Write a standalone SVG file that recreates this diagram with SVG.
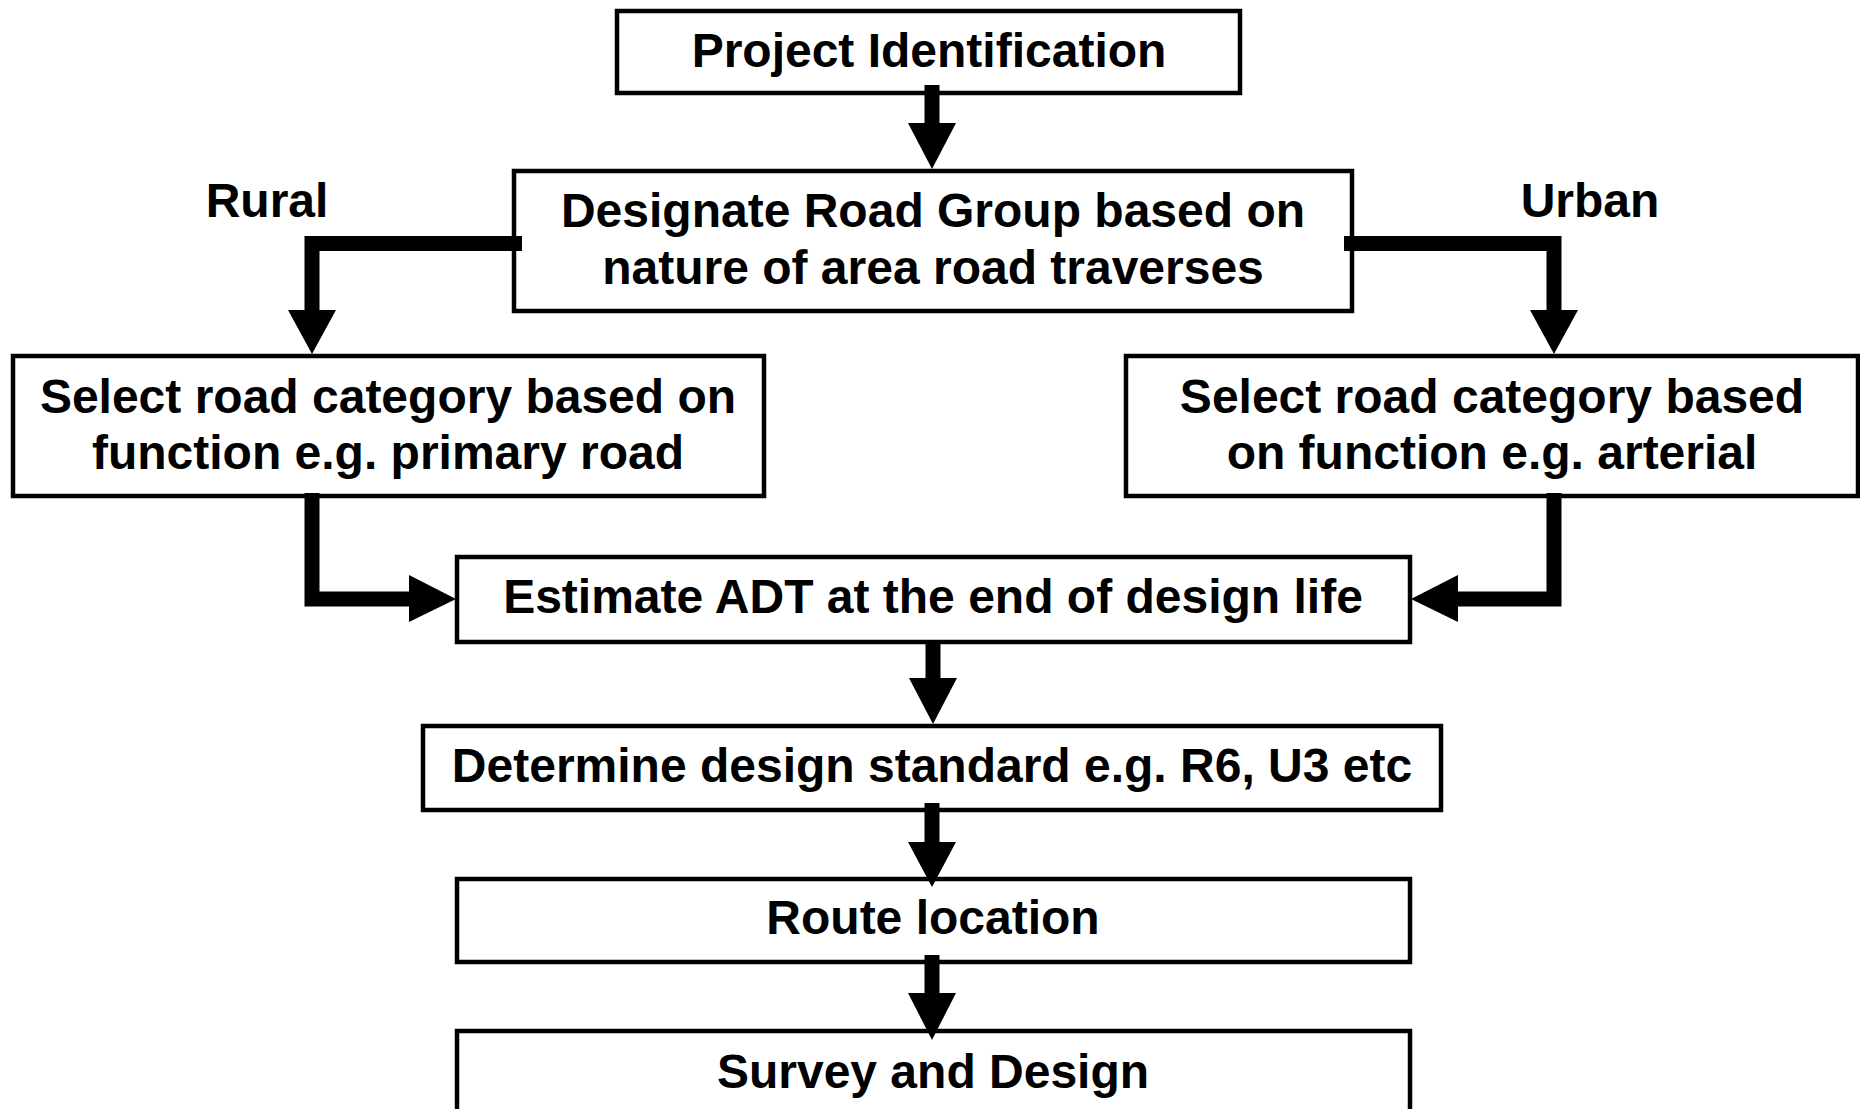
<svg xmlns="http://www.w3.org/2000/svg" width="1860" height="1109" viewBox="0 0 1860 1109">
<style>
.box{fill:#fff;stroke:#000;stroke-width:4.5}
.t{font-family:"Liberation Sans",Arial,Helvetica,sans-serif;font-weight:bold;font-size:48px;fill:#000;text-anchor:middle}
.c{fill:none;stroke:#000;stroke-width:15;stroke-linejoin:miter;stroke-linecap:butt}
.h{fill:#000;stroke:none}
</style>
<rect width="1860" height="1109" fill="#fff"/>
<g id="node-project">
<rect class="box" x="617" y="11" width="623" height="82"/>
<text class="t" x="929" y="67">Project Identification</text>
</g>
<g id="node-designate">
<rect class="box" x="514" y="171" width="838" height="140"/>
<text class="t" x="933" y="227">Designate Road Group based on</text>
<text class="t" x="933" y="284">nature of area road traverses</text>
</g>
<g id="label-rural"><text class="t" x="267" y="217">Rural</text></g>
<g id="label-urban"><text class="t" x="1590" y="217">Urban</text></g>
<g id="node-rural-category">
<rect class="box" x="13" y="356" width="751" height="140"/>
<text class="t" x="388" y="413">Select road category based on</text>
<text class="t" x="388" y="469">function e.g. primary road</text>
</g>
<g id="node-urban-category">
<rect class="box" x="1126" y="356" width="732" height="140"/>
<text class="t" x="1492" y="413">Select road category based</text>
<text class="t" x="1492" y="469">on function e.g. arterial</text>
</g>
<g id="node-adt">
<rect class="box" x="457" y="557" width="953" height="85"/>
<text class="t" x="933" y="613">Estimate ADT at the end of design life</text>
</g>
<g id="node-standard">
<rect class="box" x="423" y="726" width="1018" height="84"/>
<text class="t" x="932" y="782">Determine design standard e.g. R6, U3 etc</text>
</g>
<g id="node-route">
<rect class="box" x="457" y="879" width="953" height="83"/>
<text class="t" x="933" y="934">Route location</text>
</g>
<g id="node-survey">
<rect class="box" x="457" y="1031" width="953" height="100"/>
<text class="t" x="933" y="1088">Survey and Design</text>
</g>
<g id="connectors">
<path class="c" d="M932 85V124"/>
<polygon class="h" points="908,123 956,123 932,169"/>
<path class="c" d="M522 243.5H312V311"/>
<polygon class="h" points="288,310 336,310 312,354"/>
<path class="c" d="M1344 243.5H1554V311"/>
<polygon class="h" points="1530,310 1578,310 1554,354"/>
<path class="c" d="M312 493V599H410"/>
<polygon class="h" points="409,575 409,622 456,599"/>
<path class="c" d="M1554 493V599H1457"/>
<polygon class="h" points="1458,575 1458,622 1411,599"/>
<path class="c" d="M933 640V679"/>
<polygon class="h" points="909,678 957,678 933,724"/>
<path class="c" d="M932 803V843"/>
<polygon class="h" points="908,842 956,842 932,887"/>
<path class="c" d="M932 955V994"/>
<polygon class="h" points="908,993 956,993 932,1040"/>
</g>
</svg>
